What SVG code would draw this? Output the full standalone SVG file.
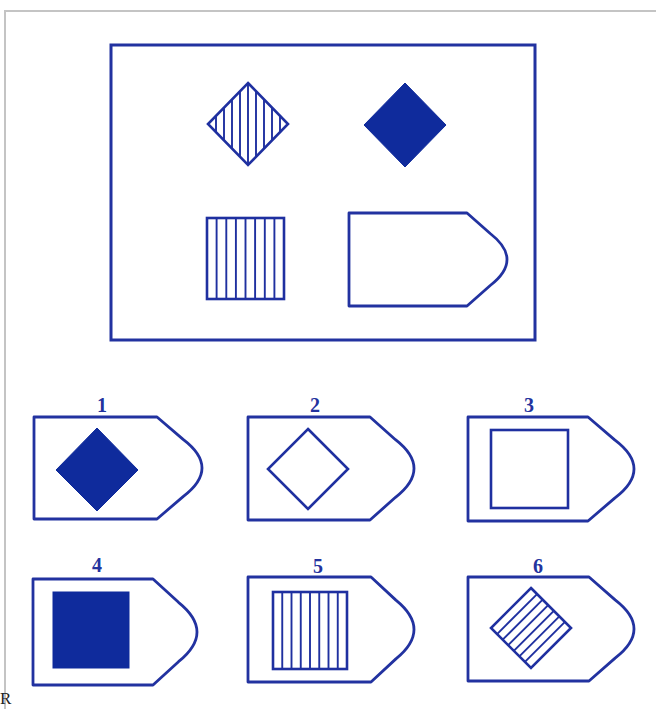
<svg xmlns="http://www.w3.org/2000/svg" width="656" height="709" viewBox="0 0 656 709">
<style>
.frame{fill:none;stroke:#c4c4c4;stroke-width:2}
.box{fill:none;stroke:#2232a0;stroke-width:3}
.tag{fill:none;stroke:#2232a0;stroke-width:2.8;stroke-linejoin:round}
.shape{fill:none;stroke:#1f30a0;stroke-width:2.6}
.solid{fill:#0f2b9c;stroke:#0f2b9c;stroke-width:1}
.hatch{stroke:#1f30a0;stroke-width:1.9;fill:none}
.lbl{font-family:"Liberation Serif",serif;font-weight:bold;font-size:20px;fill:#23339e;text-anchor:middle}
</style>
<rect x="0" y="0" width="656" height="709" fill="#ffffff"/>
<path class="frame" d="M5,709 V11 H656"/>
<text x="0" y="704" font-family="Liberation Serif, serif" font-size="17" fill="#222">R</text>

<g id="problem">
  <rect class="box" x="111" y="45" width="424" height="295"/>
  <g id="p-hatched-diamond">
    <polygon class="shape" points="248,83 288,124 248,165 208,124"/>
    <g class="hatch">
      <line x1="216" y1="115.8" x2="216" y2="132.2"/>
      <line x1="224" y1="107.6" x2="224" y2="140.4"/>
      <line x1="232" y1="99.4" x2="232" y2="148.6"/>
      <line x1="240" y1="91.2" x2="240" y2="156.8"/>
      <line x1="248" y1="83" x2="248" y2="165"/>
      <line x1="256" y1="91.2" x2="256" y2="156.8"/>
      <line x1="264" y1="99.4" x2="264" y2="148.6"/>
      <line x1="272" y1="107.6" x2="272" y2="140.4"/>
      <line x1="280" y1="115.8" x2="280" y2="132.2"/>
    </g>
  </g>
  <g id="p-solid-diamond">
    <polygon class="solid" points="405,83 446,125 405,167 364,125"/>
  </g>
  <g id="p-hatched-square">
    <rect class="shape" x="207" y="218" width="77" height="81"/>
    <g class="hatch">
      <line x1="216.6" y1="218" x2="216.6" y2="299"/>
      <line x1="226.3" y1="218" x2="226.3" y2="299"/>
      <line x1="235.9" y1="218" x2="235.9" y2="299"/>
      <line x1="245.5" y1="218" x2="245.5" y2="299"/>
      <line x1="255.1" y1="218" x2="255.1" y2="299"/>
      <line x1="264.8" y1="218" x2="264.8" y2="299"/>
      <line x1="274.4" y1="218" x2="274.4" y2="299"/>
    </g>
  </g>
  <g id="p-tag">
    <path class="tag" d="M349,213 H467 L490.2,233.5 Q507,246.5 507,259.5 Q507,272.5 490.2,285.5 L467,306 H349 Z"/>
  </g>
</g>

<g id="opt1">
  <text class="lbl" x="102" y="412">1</text>
  <path class="tag" d="M34,417 H157 L183.1,439.4 Q202,453.7 202,468 Q202,482.3 183.1,496.6 L157,519 H34 Z"/>
  <polygon class="solid" points="97,428 138,470 97,511 56,470"/>
</g>

<g id="opt2">
  <text class="lbl" x="315" y="412">2</text>
  <path class="tag" d="M248,417 H370 L395.5,439.7 Q414,454.1 414,468.5 Q414,482.9 395.5,497.3 L370,520 H248 Z"/>
  <polygon class="shape" points="308,429 348,469 308,509 268,469"/>
</g>

<g id="opt3">
  <text class="lbl" x="529" y="412">3</text>
  <path class="tag" d="M468,417 H588 L614.7,439.9 Q634,454.4 634,469 Q634,483.6 614.7,498.1 L588,521 H468 Z"/>
  <rect class="shape" x="491" y="430" width="77" height="78"/>
</g>

<g id="opt4">
  <text class="lbl" x="97" y="572">4</text>
  <path class="tag" d="M33,579 H153 L178.5,602.3 Q197,617.2 197,632 Q197,646.8 178.5,661.7 L153,685 H33 Z"/>
  <rect class="solid" x="53" y="592" width="76" height="76"/>
</g>

<g id="opt5">
  <text class="lbl" x="318" y="573">5</text>
  <path class="tag" d="M248,577 H371 L395.9,600.1 Q414,614.8 414,629.5 Q414,644.2 395.9,658.9 L371,682 H248 Z"/>
  <rect class="shape" x="273" y="592" width="74" height="77"/>
  <g class="hatch">
    <line x1="282.25" y1="592" x2="282.25" y2="669"/>
    <line x1="291.5" y1="592" x2="291.5" y2="669"/>
    <line x1="300.75" y1="592" x2="300.75" y2="669"/>
    <line x1="310" y1="592" x2="310" y2="669"/>
    <line x1="319.25" y1="592" x2="319.25" y2="669"/>
    <line x1="328.5" y1="592" x2="328.5" y2="669"/>
    <line x1="337.75" y1="592" x2="337.75" y2="669"/>
  </g>
</g>

<g id="opt6">
  <text class="lbl" x="538" y="573">6</text>
  <path class="tag" d="M468,577 H589 L615.1,599.9 Q634,614.4 634,629 Q634,643.6 615.1,658.1 L589,681 H468 Z"/>
  <polygon class="shape" points="531,588 571,628 531,668 491,628"/>
  <g class="hatch">
    <line x1="497.05" y1="634.05" x2="537.05" y2="594.05"/>
    <line x1="502.65" y1="639.65" x2="542.65" y2="599.65"/>
    <line x1="508.2" y1="645.2" x2="548.2" y2="605.2"/>
    <line x1="513.8" y1="650.8" x2="553.8" y2="610.8"/>
    <line x1="519.35" y1="656.35" x2="559.35" y2="616.35"/>
    <line x1="524.95" y1="661.95" x2="564.95" y2="621.95"/>
  </g>
</g>
</svg>
